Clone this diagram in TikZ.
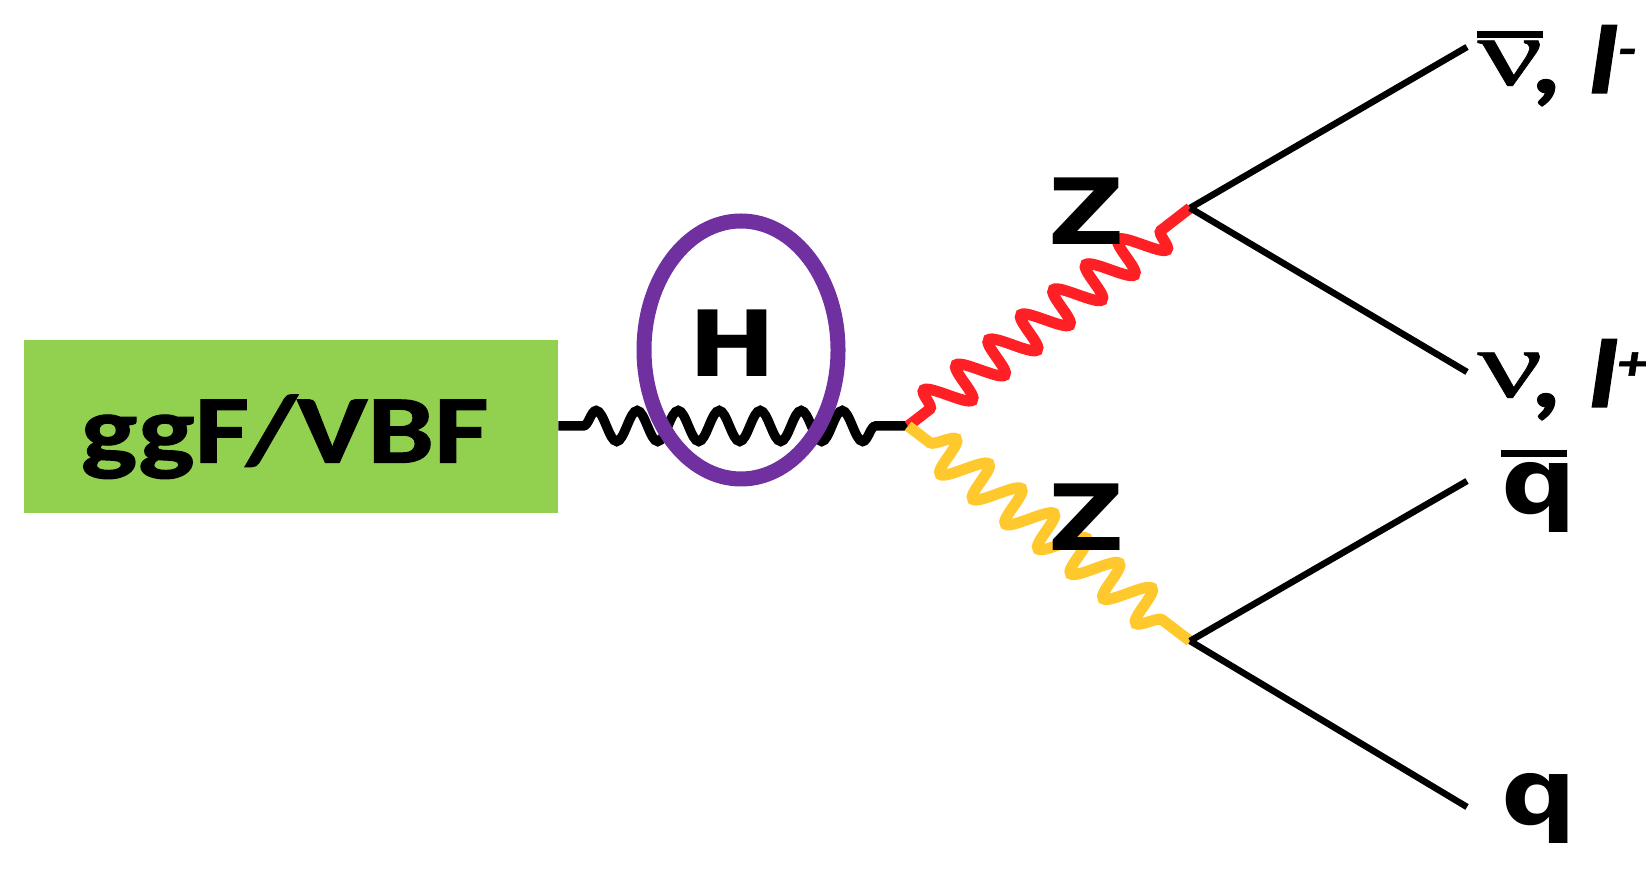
\documentclass[tikz,border=0pt]{standalone}
\usepackage{fontspec}
\usetikzlibrary{shapes.geometric,decorations.pathmorphing}
\setmainfont[FakeStretch=1.15]{DejaVu Sans}
\newfontfamily\carlitofont[FakeStretch=1.23,FakeBold=1.2]{Carlito}
\newfontfamily\nufont[FakeStretch=1.5,FakeBold=0.6]{Liberation Serif}
\def\barred#1#2#3{\vbox{\hrule height #2 \kern #3 \hbox{#1}}}

\tikzset{
  particle/.style={font=\fontsize{52}{60}\selectfont\bfseries, inner sep=0pt},
  lepton/.style={anchor=base west, inner sep=0pt},
  fermion/.style={line width=0.13cm},
  boson/.style={line width=0.19cm, decorate,
    decoration={snake, segment length=0.82cm, amplitude=0.31cm, pre length=0.5cm, post length=0.4cm}},
  zboson/.style={boson, line width=0.22cm, decoration={amplitude=0.38cm, pre length=0.55cm, post length=0.45cm}},
  slantup/.style={decoration={transform={xslant=-0.3}}},
  slantdown/.style={decoration={transform={xslant=0.3}}},
}

\begin{document}
\begin{tikzpicture}
\useasboundingbox (0,0) rectangle (32.92,17.44);

\node (prod) [fill={rgb,255:red,146;green,208;blue,80}, minimum width=10.68cm, minimum height=3.46cm, inner sep=0pt,
  font=\fontsize{55}{60}\selectfont\carlitofont\bfseries] at (5.82,8.91) {\kern-0.25cm\raisebox{-0.72cm}[0pt][0pt]{ggF/VBF}};

\coordinate (hz) at (18.16,8.92);
\coordinate (zup) at (23.8,13.28);
\coordinate (zdown) at (23.8,4.62);

\draw[boson] (prod.east |- hz) -- (hz);
\draw[zboson, slantup, color={rgb,255:red,255;green,32;blue,38}] (hz) -- (zup);
\draw[zboson, slantdown, color={rgb,255:red,255;green,200;blue,44}] (hz) -- (zdown);

\node (higgs) [particle] at (14.65,10.57) {H};
\node (circ) [ellipse, draw={rgb,255:red,112;green,48;blue,160}, line width=0.3cm, minimum width=3.88cm, minimum height=5.16cm, inner sep=0pt] at (14.82,10.44) {};

\node (zupl) [particle] at (21.74,13.22) {Z};
\node (zdownl) [particle] at (21.74,7.1) {Z};

% final states
\coordinate (nubarend) at (29.34,16.5);
\coordinate (nuend) at (29.34,10);
\coordinate (qbarend) at (29.34,7.82);
\coordinate (qend) at (29.34,1.3);

\draw[fermion] (zup) -- (nubarend);
\draw[fermion] (zup) -- (nuend);
\draw[fermion] (zdown) -- (qbarend);
\draw[fermion] (zdown) -- (qend);

\node (nubar) [lepton] at (29.54,15.58) {\fontsize{55}{60}\selectfont\raisebox{0.16cm}{\nufont\barred{ν}{0.13cm}{0.06cm}}\kern-0.2cm\carlitofont\bfseries\itshape,\kern0.5cm l\raisebox{0.55cm}{\fontsize{28}{36}\selectfont -}};
\node (nu) [lepton] at (29.54,9.3) {\fontsize{55}{60}\selectfont\raisebox{0.2cm}{\nufont ν}\kern-0.2cm\carlitofont\bfseries\itshape,\kern0.5cm l\raisebox{0.55cm}{\fontsize{28}{36}\selectfont +}};
\node (qbar) [lepton, font=\fontsize{52}{60}\selectfont\bfseries] at (30.02,7.16) {\barred{q\kern-0.2cm}{0.13cm}{0.12cm}};
\node (q) [lepton, font=\fontsize{52}{60}\selectfont\bfseries] at (30.02,0.96) {q};

\end{tikzpicture}
\end{document}
